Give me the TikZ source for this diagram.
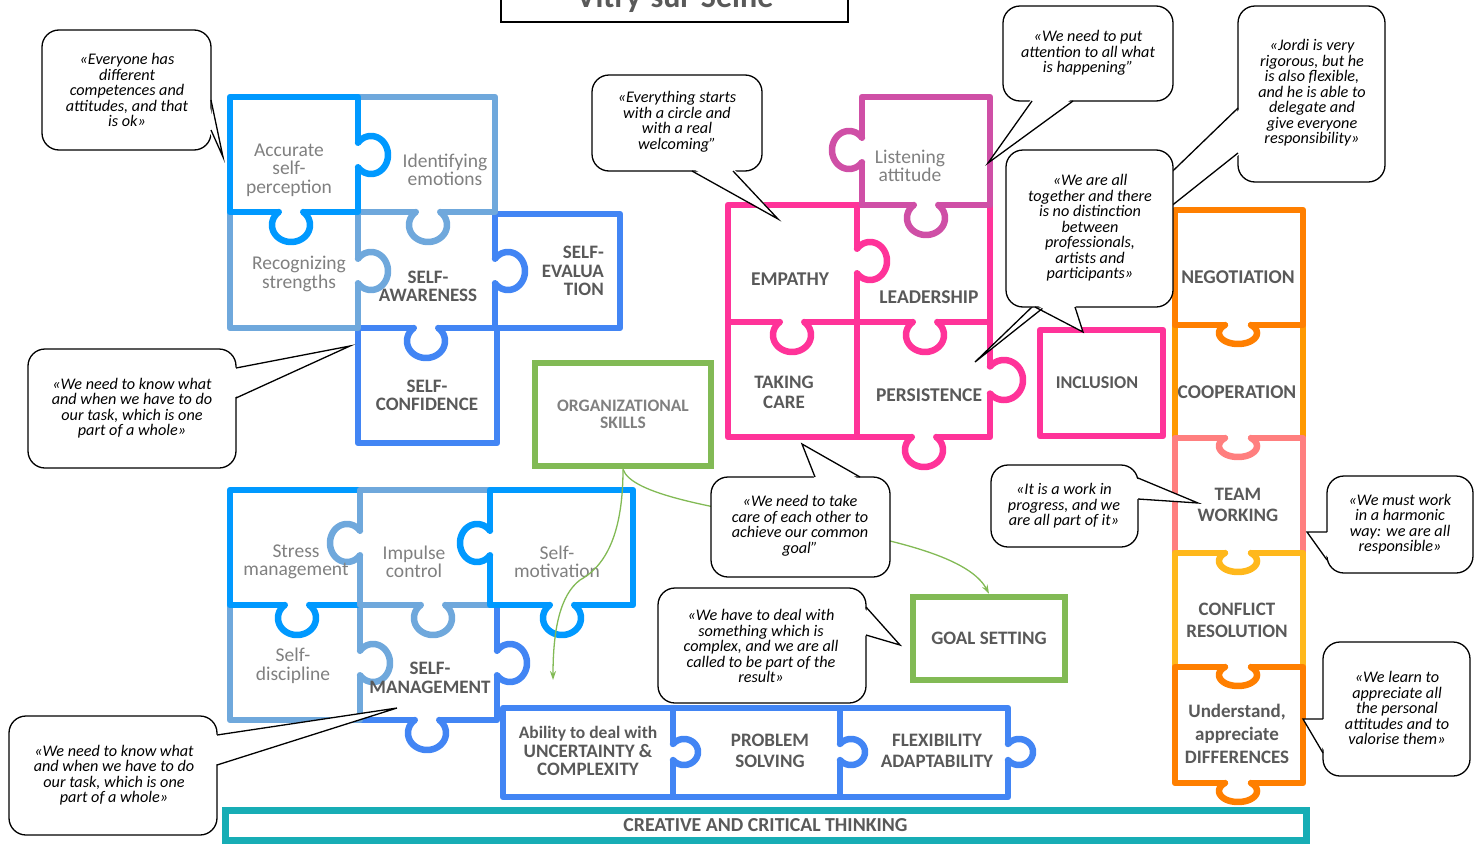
\documentclass[tikz,border=0pt]{standalone}
\usepackage{fontspec}
\setmainfont{Carlito}
\usetikzlibrary{arrows.meta}
\definecolor{bbright}{HTML}{0099FF}
\definecolor{blight}{HTML}{6FA8DC}
\definecolor{bmid}{HTML}{4285F4}
\definecolor{magen}{HTML}{CF4FA6}
\definecolor{hpink}{HTML}{FF3399}
\definecolor{grn}{HTML}{82BA55}
\definecolor{tealc}{HTML}{17ADB5}
\definecolor{orD}{HTML}{FF7F00}
\definecolor{orM}{HTML}{FF9900}
\definecolor{salm}{HTML}{FF7F7F}
\definecolor{gold}{HTML}{FFB81C}
\definecolor{txtg}{HTML}{808080}
\definecolor{txtd}{HTML}{595959}
\newcommand\pknob[6]{%
\begin{scope}[shift={#2},rotate=#3]
\pgfmathsetmacro\kA{asin(#6/#5)}
\pgfmathsetmacro\kH{#4*cos(\kA)}
\pgfmathsetmacro\kS{-\kA}
\pgfmathsetmacro\kE{180+\kA}
\fill[white] ({-\kH+1.5},-4) rectangle ({\kH-1.5},4);
\draw[piece,#1] plot[domain=\kS:\kE,samples=48] ({#4*cos(\x)},{#6+#5*sin(\x)});
\end{scope}}
\newcommand\ptr[5]{%
\fill[white] #4 -- #2 -- #5 -- cycle;
\draw[black,line width=1.3pt,line join=miter] #1 -- #2 -- #3;}
\begin{document}
\begin{tikzpicture}[x=1pt,y=-1pt,
 piece/.style={line width=6.5pt,line join=round,line cap=round},
 lbl/.style={text=txtg,align=center,inner sep=0pt,font=\fontsize{19.5}{18.5}\selectfont},
 capb/.style={text=txtd,align=center,inner sep=0pt,font=\fontsize{19.5}{19}\selectfont\bfseries},
 quote/.style={align=center,inner sep=0pt,font=\fontsize{16.2}{15.5}\selectfont\itshape},
 bubble/.style={draw=black,fill=white,line width=1.3pt,rounded corners=17pt},
 gbox/.style={draw=grn,line width=6.5pt,inner sep=0pt},
 garrow/.style={draw=grn,line width=1.3pt,-{Stealth[length=9pt,width=6pt]}}]
\useasboundingbox (0,0) rectangle (1475,846);
\clip (0,0) rectangle (1475,846);
% title
\draw[line width=1.3pt] (501,-10) rectangle (848,22);
\node[text=txtd,anchor=base,inner sep=0pt,font=\fontsize{32}{32}\selectfont\bfseries] (title) at (675,7) {Vitry-sur-Seine};
% ---------- cluster 1: self-awareness
\draw[piece,bmid] (358,212) rectangle (495,328);
\draw[piece,bmid] (495,214) rectangle (620,328);
\draw[piece,bmid] (358,328) rectangle (497,443);
\draw[piece,blight] (230,212) rectangle (358,328);
\draw[piece,blight] (358,97) rectangle (495,212);
\draw[piece,bbright] (230,97) rectangle (358,212);
\pknob{bmid}{(495,271)}{90}{19}{17}{13}
\pknob{bmid}{(426,328)}{0}{19}{17}{13}
\pknob{blight}{(358,271)}{90}{19}{17}{13}
\pknob{blight}{(428,212)}{0}{19}{17}{13}
\pknob{bbright}{(358,155)}{90}{19}{17}{13}
\pknob{bbright}{(291,212)}{0}{19}{17}{13}
\node[lbl] (acc) at (289,170) {Accurate\\self-\\perception};
\node[lbl] (ide) at (445,170) {Identifying\\emotions};
\node[lbl] (rec) at (299,274) {Recognizing\\strengths};
\node[capb,font=\fontsize{19}{18}\selectfont\bfseries] (saw) at (428,286) {SELF-\\AWARENESS};
\node[capb,align=right,anchor=east,font=\fontsize{19}{18.5}\selectfont\bfseries] (sev) at (604,271) {SELF-\\EVALUA\\TION};
\node[capb,font=\fontsize{19}{18}\selectfont\bfseries] (sco) at (427,395) {SELF-\\CONFIDENCE};
% ---------- cluster 2: self-management
\draw[piece,bmid] (360,605) rectangle (497,720);
\draw[piece,blight] (230,605) rectangle (360,720);
\draw[piece,bbright] (230,490) rectangle (360,605);
\draw[piece,blight] (360,490) rectangle (490,605);
\draw[piece,bbright] (490,490) rectangle (633,605);
\pknob{bmid}{(497,663)}{90}{19}{17}{13}
\pknob{bmid}{(427,720)}{0}{19}{17}{13}
\pknob{blight}{(360,663)}{90}{19}{17}{13}
\pknob{bbright}{(297,605)}{0}{19}{17}{13}
\pknob{blight}{(360,543)}{-90}{19}{17}{13}
\pknob{blight}{(433,605)}{0}{19}{17}{13}
\pknob{bbright}{(490,543)}{-90}{19}{17}{13}
\pknob{bbright}{(562,605)}{0}{19}{17}{13}
\node[lbl] (str) at (296,562) {Stress\\management};
\node[lbl] (imp) at (414,562) {Impulse\\control};
\node[lbl] (smo) at (557,562) {Self-\\motivation};
\node[lbl] (sdi) at (293,666) {Self-\\discipline};
\node[capb,font=\fontsize{19}{19}\selectfont\bfseries] (sma) at (430,678) {SELF-\\MANAGEMENT};
% ---------- pink cluster
\draw[piece,hpink] (728,205) rectangle (857,322);
\draw[piece,hpink] (857,205) rectangle (990,322);
\draw[piece,hpink] (728,322) rectangle (857,437);
\draw[piece,hpink] (857,322) rectangle (990,437);
\draw[piece,hpink] (1040,330) rectangle (1163,436);
\draw[piece,magen] (862,97) rectangle (990,205);
\pknob{hpink}{(857,261)}{90}{19}{17}{13}
\pknob{hpink}{(792,322)}{0}{19}{17}{13}
\pknob{hpink}{(925,322)}{0}{19}{17}{13}
\pknob{hpink}{(990,380)}{90}{20}{19}{14}
\pknob{hpink}{(924,437)}{0}{19}{17}{13}
\pknob{magen}{(862,150)}{-90}{19}{17}{13}
\pknob{magen}{(926,205)}{0}{19}{17}{13}
\node[lbl] (lis) at (910,166) {Listening\\attitude};
\node[capb] (emp) at (790,279) {EMPATHY};
\node[capb] (lea) at (929,297) {LEADERSHIP};
\node[capb,font=\fontsize{19}{20}\selectfont\bfseries] (tak) at (784,392) {TAKING\\CARE};
\node[capb] (per) at (929,395) {PERSISTENCE};
\node[capb,font=\fontsize{18}{18}\selectfont\bfseries] (inc) at (1097,383) {INCLUSION};
% ---------- orange column
\draw[piece,orM] (1175,325) rectangle (1303,438);
\draw[piece,orD] (1175,210) rectangle (1303,325);
\draw[piece,salm] (1175,438) rectangle (1303,553);
\draw[piece,gold] (1175,553) rectangle (1303,667);
\draw[piece,orD] (1175,667) rectangle (1303,783);
\pknob{orD}{(1238,325)}{0}{19}{11}{8}
\pknob{salm}{(1238,438)}{0}{19}{11}{8}
\pknob{gold}{(1238,553)}{0}{19}{11}{8}
\pknob{orD}{(1238,667)}{0}{19}{11}{8}
\pknob{orD}{(1238,783)}{0}{19}{11}{8}
\node[capb] (neg) at (1238,277) {NEGOTIATION};
\node[capb] (coo) at (1237,392) {COOPERATION};
\node[capb,font=\fontsize{19}{21}\selectfont\bfseries] (tea) at (1238,505) {TEAM\\WORKING};
\node[capb,font=\fontsize{19}{22}\selectfont\bfseries] (con) at (1237,620) {CONFLICT\\RESOLUTION};
\node[capb,font=\fontsize{19}{23}\selectfont\bfseries] (und) at (1237,734) {Understand,\\appreciate\\DIFFERENCES};
% ---------- blue row
\draw[piece,bmid] (503,708) rectangle (673,797);
\draw[piece,bmid] (673,708) rectangle (840,797);
\draw[piece,bmid] (840,708) rectangle (1008,797);
\pknob{bmid}{(673,752)}{90}{13}{14}{11}
\pknob{bmid}{(840,752)}{90}{13}{14}{11}
\pknob{bmid}{(1008,752)}{90}{13}{14}{11}
\node[capb,font=\fontsize{19}{18.5}\selectfont\bfseries] (abi) at (588,751) {{\fontsize{17.5}{18.5}\selectfont Ability to deal with}\\UNCERTAINTY \&\\COMPLEXITY};
\node[capb,font=\fontsize{19}{21}\selectfont\bfseries] (pro) at (770,751) {PROBLEM\\SOLVING};
\node[capb,font=\fontsize{19}{21}\selectfont\bfseries] (fle) at (937,751) {FLEXIBILITY\\ADAPTABILITY};
% ---------- teal bar
\node[draw=tealc,line width=7pt,minimum width=1081pt,minimum height=30pt,inner sep=0pt,text=txtd,font=\fontsize{19.8}{19.8}\selectfont\bfseries] (cre) at (765.5,825) {CREATIVE AND CRITICAL THINKING};
% ---------- green boxes and arrows
\node[gbox,minimum width=176pt,minimum height=103pt,text=txtg,align=center,font=\fontsize{17.5}{16.5}\selectfont\bfseries] (org) at (623,414.5) {ORGANIZATIONAL\\SKILLS};
\node[gbox,minimum width=152pt,minimum height=83pt,text=txtd,font=\fontsize{19}{19}\selectfont\bfseries] (goal) at (989,638.5) {GOAL SETTING};
\coordinate (gend) at (553,680);
\draw[garrow] (org.south) .. controls (623,540) and (602,568) .. (580,580) .. controls (560,595) and (553,630) .. (gend);
\draw[garrow] (org.south) .. controls (640,520) and (950,520) .. (goal.north);
% ---------- callouts
% B1
\draw[bubble] (42,30) rectangle (211,150);
\ptr{(211,100)}{(223,157)}{(211,130)}{(208,100)}{(208,130)}
\node[quote] (q1) at (127,90) {«Everyone has\\different\\competences and\\attitudes, and that\\is ok»};
% B2
\draw[bubble] (592,75) rectangle (762,171);
\ptr{(692,171)}{(778,219)}{(733,171)}{(692,168)}{(733,168)}
\node[quote] (q2) at (677,122) {«Everything starts\\with a circle and\\with a real\\welcoming”};
% B3
\draw[bubble] (1003,6) rectangle (1173,101);
\ptr{(1032,101)}{(988,163)}{(1073,101)}{(1032,98)}{(1073,98)}
\node[quote] (q3) at (1088,53) {«We need to put\\attention to all what\\is happening”};
% B4
\draw[bubble] (1238,6) rectangle (1385,182);
\ptr{(1238,108)}{(975,362)}{(1238,153)}{(1241,108)}{(1241,153)}
\node[quote] (q4) at (1312,93) {«Jordi is very\\rigorous, but he\\is also flexible,\\and he is able to\\delegate and\\give everyone\\responsibility»};
% B5
\draw[bubble] (1006,150) rectangle (1173,307);
\ptr{(1035,307)}{(1083,332)}{(1075,307)}{(1035,304)}{(1075,304)}
\node[quote] (q5) at (1090,228) {«We are all\\together and there\\is no distinction\\between\\professionals,\\artists and\\participants»};
% B6
\draw[bubble] (28,349) rectangle (236,468);
\ptr{(236,368)}{(350,346)}{(236,398)}{(233,368)}{(233,398)}
\node[quote] (q6) at (132,408) {«We need to know what\\and when we have to do\\our task, which is one\\part of a whole»};
% B7
\draw[bubble] (9,716) rectangle (217,835);
\ptr{(217,735)}{(397,708)}{(217,765)}{(214,735)}{(214,765)}
\node[quote] (q7) at (114,775) {«We need to know what\\and when we have to do\\our task, which is one\\part of a whole»};
% B8
\draw[bubble] (711,477) rectangle (890,577);
\ptr{(815,477)}{(802,444)}{(860,477)}{(815,480)}{(860,480)}
\node[quote] (q8) at (800,526) {«We need to take\\care of each other to\\achieve our common\\goal”};
% B9
\draw[bubble] (658,588) rectangle (866,703);
\ptr{(866,607)}{(900,645)}{(866,635)}{(863,607)}{(863,635)}
\node[quote] (q9) at (761,646) {«We have to deal with\\something which is\\complex, and we are all\\called to be part of the\\result»};
% B10
\draw[bubble] (991,465) rectangle (1138,547);
\ptr{(1138,478)}{(1198,503)}{(1138,499)}{(1135,478)}{(1135,499)}
\node[quote] (q10) at (1064,506) {«It is a work in\\progress, and we\\are all part of it»};
% B11
\draw[bubble] (1327,476) rectangle (1473,573);
\ptr{(1327,532)}{(1307,532)}{(1327,560)}{(1330,532)}{(1330,560)}
\node[quote] (q11) at (1400,524) {«We must work\\in a harmonic\\way: we are all\\responsible»};
% B12
\draw[bubble] (1323,642) rectangle (1470,776);
\ptr{(1323,719)}{(1303,719)}{(1323,753)}{(1326,719)}{(1326,753)}
\node[quote] (q12) at (1397,708) {«We learn to\\appreciate all\\the personal\\attitudes and to\\valorise them»};
\end{tikzpicture}
\end{document}
